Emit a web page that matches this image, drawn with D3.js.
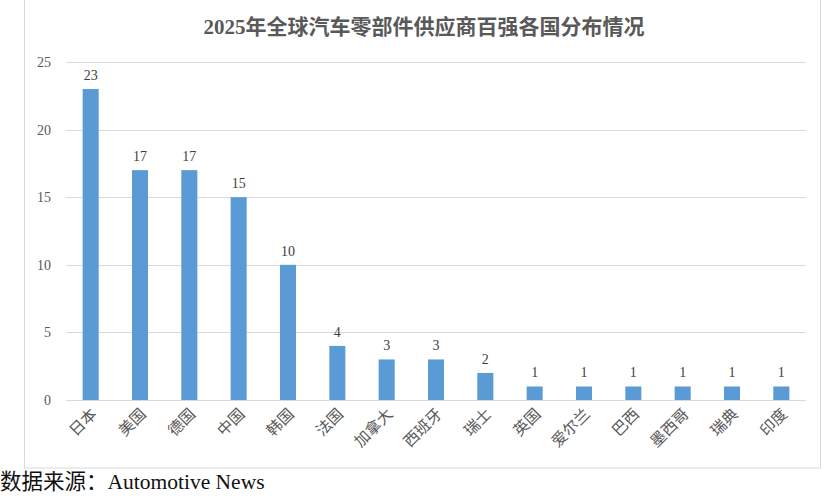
<!DOCTYPE html>
<html>
<head>
<meta charset="utf-8">
<script src="https://cdn.jsdelivr.net/npm/d3@7"></script>
<style>
  body { margin: 0; background: #fff; }
  svg text { font-family: "Liberation Serif", "Noto Sans CJK SC", serif; }
</style>
</head>
<body>
<div id="vis"></div>
<script>
var width = 830,
    height = 496;

var countries = ["日本", "美国", "德国", "中国", "韩国", "法国", "加拿大", "西班牙", "瑞士", "英国", "爱尔兰", "巴西", "墨西哥", "瑞典", "印度"];
var counts = [23, 17, 17, 15, 10, 4, 3, 3, 2, 1, 1, 1, 1, 1, 1];
var yTicks = [0, 5, 10, 15, 20, 25];

var titleText = "2025年全球汽车零部件供应商百强各国分布情况";
var sourceText = "数据来源：Automotive News";

var svg = d3.select("#vis").append("svg")
    .attr("width", width)
    .attr("height", height);

// chart frame
svg.append("rect")
    .attr("x", 24.5)
    .attr("y", -2)
    .attr("width", 796)
    .attr("height", 470)
    .attr("fill", "none")
    .attr("stroke", "#d9d9d9");

var x = d3.scaleBand()
    .domain(countries)
    .range([66, 806])
    .paddingInner(0.675)
    .paddingOuter(0.3375);

var y = d3.scaleLinear()
    .domain([0, 25])
    .range([400, 62]);

// gridlines
svg.append("g")
    .selectAll("line")
    .data(yTicks)
    .enter()
    .append("line")
    .attr("x1", 66)
    .attr("x2", 806)
    .attr("y1", function(d) { return Math.round(y(d)) + 0.5; })
    .attr("y2", function(d) { return Math.round(y(d)) + 0.5; })
    .attr("stroke", "#d9d9d9")
    .attr("stroke-width", 1.2);

// y axis labels
var yAxis = d3.axisLeft(y)
    .tickValues(yTicks)
    .tickSize(0)
    .tickPadding(15);

svg.append("g")
    .attr("transform", "translate(66,0)")
    .call(yAxis)
    .call(function(g) { g.select(".domain").remove(); })
    .selectAll("text")
    .attr("font-size", 14)
    .attr("fill", "#595959")
    .style("font-family", "'Liberation Serif', serif");

var data = countries.map(function(c, i) { return { name: c, value: counts[i] }; });

// bars
svg.selectAll("rect.bar")
    .data(data)
    .enter()
    .append("rect")
    .attr("class", "bar")
    .attr("x", function(d) { return x(d.name); })
    .attr("y", function(d) { return y(d.value); })
    .attr("width", x.bandwidth())
    .attr("height", function(d) { return y(0) - y(d.value); })
    .attr("fill", "#5b9bd5");

// value labels
svg.selectAll("text.val")
    .data(data)
    .enter()
    .append("text")
    .attr("class", "val")
    .attr("x", function(d) { return x(d.name) + x.bandwidth() / 2; })
    .attr("y", function(d) { return y(d.value) - 9; })
    .attr("text-anchor", "middle")
    .attr("font-size", 14)
    .attr("fill", "#404040")
    .text(function(d) { return d.value; });

// category labels, rotated
var xAxis = d3.axisBottom(x)
    .tickSize(0)
    .tickPadding(0);

svg.append("g")
    .attr("transform", "translate(0,400)")
    .call(xAxis)
    .call(function(g) { g.select(".domain").remove(); })
    .selectAll("text")
    .attr("font-size", 15.5)
    .attr("fill", "#595959")
    .style("font-family", "'Noto Sans CJK SC', sans-serif")
    .attr("text-anchor", "end")
    .attr("dy", null)
    .attr("y", 0)
    .attr("transform", "translate(7,15) rotate(-45)");

// title
svg.append("text")
    .attr("x", 424)
    .attr("y", 34)
    .attr("text-anchor", "middle")
    .attr("font-size", 21)
    .attr("font-weight", "bold")
    .attr("fill", "#595959")
    .text(titleText);

// source note
svg.append("text")
    .attr("x", 0)
    .attr("y", 489)
    .attr("font-size", 21.5)
    .attr("fill", "#111")
    .text(sourceText);
</script>
</body>
</html>
